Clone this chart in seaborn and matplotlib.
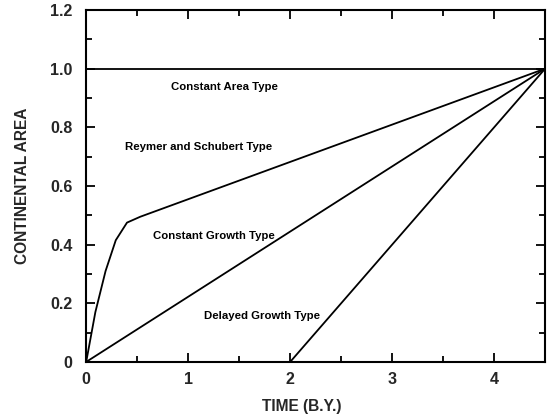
import numpy as np
import pandas as pd
import matplotlib
matplotlib.use("Agg")
import matplotlib.pyplot as plt
from matplotlib.ticker import MultipleLocator, FixedLocator, FixedFormatter
import seaborn as sns

# Continental growth models (time in billions of years, area relative to present)
constant_area_t = [0.0, 4.5]
constant_area_a = [1.0, 1.0]

reymer_t = [0.0, 0.09, 0.19, 0.29, 0.40, 0.53, 4.5]
reymer_a = [0.0, 0.17, 0.31, 0.415, 0.475, 0.495, 1.0]

constant_growth_t = [0.0, 4.5]
constant_growth_a = [0.0, 1.0]

delayed_growth_t = [2.0, 4.5]
delayed_growth_a = [0.0, 1.0]

model_names = ["Constant Area Type", "Reymer and Schubert Type",
               "Constant Growth Type", "Delayed Growth Type"]
label_x = [1.36, 1.10, 1.25, 1.72]
label_y = [0.936, 0.732, 0.431, 0.158]

x_ticks = [0, 1, 2, 3, 4]
x_tick_labels = ["0", "1", "2", "3", "4"]
y_ticks = [0, 0.2, 0.4, 0.6, 0.8, 1.0, 1.2]
y_tick_labels = ["0", "0.2", "0.4", "0.6", "0.8", "1.0", "1.2"]

frames = []
for name, t, a in zip(model_names,
                      [constant_area_t, reymer_t, constant_growth_t, delayed_growth_t],
                      [constant_area_a, reymer_a, constant_growth_a, delayed_growth_a]):
    frames.append(pd.DataFrame({"time": t, "area": a, "model": name}))
df = pd.concat(frames, ignore_index=True)

sns.set_style("ticks")
plt.rcParams["font.family"] = ["Liberation Sans", "DejaVu Sans"]

fig = plt.figure(figsize=(5.49, 4.16), dpi=100)
ax = fig.add_axes([0.157, 0.130, 0.836, 0.846])

sns.lineplot(data=df, x="time", y="area", units="model", estimator=None,
             sort=False, color="black", linewidth=1.3, ax=ax, legend=False)

for name, lx, ly in zip(model_names, label_x, label_y):
    ax.text(lx, ly, name, ha="center", va="center", fontsize=8.2,
            fontweight="bold", color="black")

ax.set_xlim(0, 4.5)
ax.set_ylim(0, 1.2)

ax.xaxis.set_major_locator(FixedLocator(x_ticks))
ax.xaxis.set_major_formatter(FixedFormatter(x_tick_labels))
ax.xaxis.set_minor_locator(MultipleLocator(0.5))
ax.yaxis.set_major_locator(FixedLocator(y_ticks))
ax.yaxis.set_major_formatter(FixedFormatter(y_tick_labels))
ax.yaxis.set_minor_locator(MultipleLocator(0.1))

ax.tick_params(which="both", direction="in", top=True, right=True,
               width=1.3, color="black")
ax.tick_params(which="major", length=6.5, labelsize=11.5)
ax.tick_params(axis="y", which="major", pad=10)
ax.tick_params(axis="x", which="major", pad=7)
ax.tick_params(which="minor", length=4.5)
for lab in ax.get_xticklabels() + ax.get_yticklabels():
    lab.set_fontweight("bold")

for spine in ax.spines.values():
    spine.set_linewidth(1.5)
    spine.set_color("black")

ax.set_xlabel("TIME (B.Y.)", fontsize=11.2, fontweight="bold")
ax.set_ylabel("CONTINENTAL AREA", fontsize=11.2, fontweight="bold")
ax.xaxis.set_label_coords(0.47, -0.105)
ax.yaxis.set_label_coords(-0.123, 0.5)

fig.savefig("out.png", dpi=100)
